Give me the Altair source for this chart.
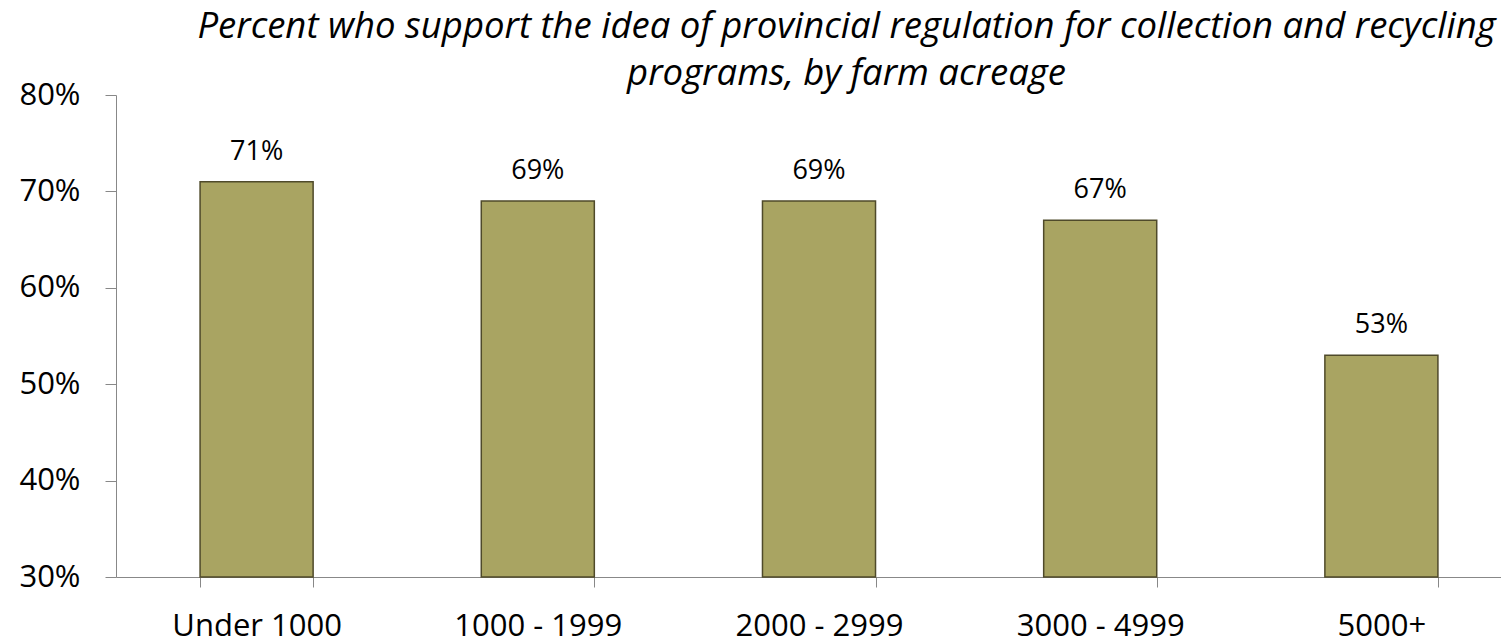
import altair as alt
import pandas as pd

categories = ["Under 1000", "1000 - 1999", "2000 - 2999", "3000 - 4999", "5000+"]
values = [0.71, 0.69, 0.69, 0.67, 0.53]
labels = ["71%", "69%", "69%", "67%", "53%"]
y_ticks = [0.3, 0.4, 0.5, 0.6, 0.7, 0.8]
title_lines = [
    "Percent who support the idea of provincial regulation for collection and recycling",
    "programs, by farm acreage",
]

df = pd.DataFrame({"cat": categories, "val": values, "lab": labels})

FONT = "Open Sans"

x_enc = alt.X(
    "cat:N",
    sort=categories,
    title=None,
    scale=alt.Scale(range=[0, 1406], paddingInner=0.598, paddingOuter=0.299),
    axis=alt.Axis(
        labelAngle=0,
        labelFont=FONT,
        labelFontSize=31,
        labelColor="black",
        labelPadding=48,
        labelBaseline="alphabetic",
        tickBand="extent",
        tickSize=10,
        tickColor="#888888",
        domainColor="#888888",
        labelFlush=False,
    ),
)

y_enc = alt.Y(
    "val:Q",
    title=None,
    scale=alt.Scale(domain=[0.3, 0.8], zero=False, nice=False),
    axis=alt.Axis(
        values=y_ticks,
        format=".0%",
        labelFont=FONT,
        labelFontSize=31,
        labelColor="black",
        labelPadding=25,
        tickSize=11,
        tickColor="#888888",
        domainColor="#888888",
        grid=False,
    ),
)

bars = alt.Chart(df).mark_bar(
    color="#A9A462", stroke="#4F4A2A", strokeWidth=1.5
).encode(x=x_enc, y=y_enc, y2=alt.datum(0.3))

text = alt.Chart(df).mark_text(
    font=FONT, fontSize=27, color="black", baseline="bottom", dy=-16
).encode(x=alt.X("cat:N", sort=categories), y="val:Q", text="lab:N")

chart = (
    alt.layer(bars, text)
    .properties(
        width=1385,
        height=482,
        autosize=alt.AutoSizeParams(type="none"),
        padding={"left": 108, "top": 87, "right": 0, "bottom": 60},
        title=alt.TitleParams(
            text=title_lines,
            font=FONT,
            fontSize=36.5,
            fontStyle="italic",
            fontWeight="normal",
            color="black",
            anchor="middle",
            dx=38,
            offset=-13,
            lineHeight=47,
        ),
    )
    .configure_view(stroke=None)
)

chart.save("out.html", embed_options={"renderer": "svg", "actions": False})
